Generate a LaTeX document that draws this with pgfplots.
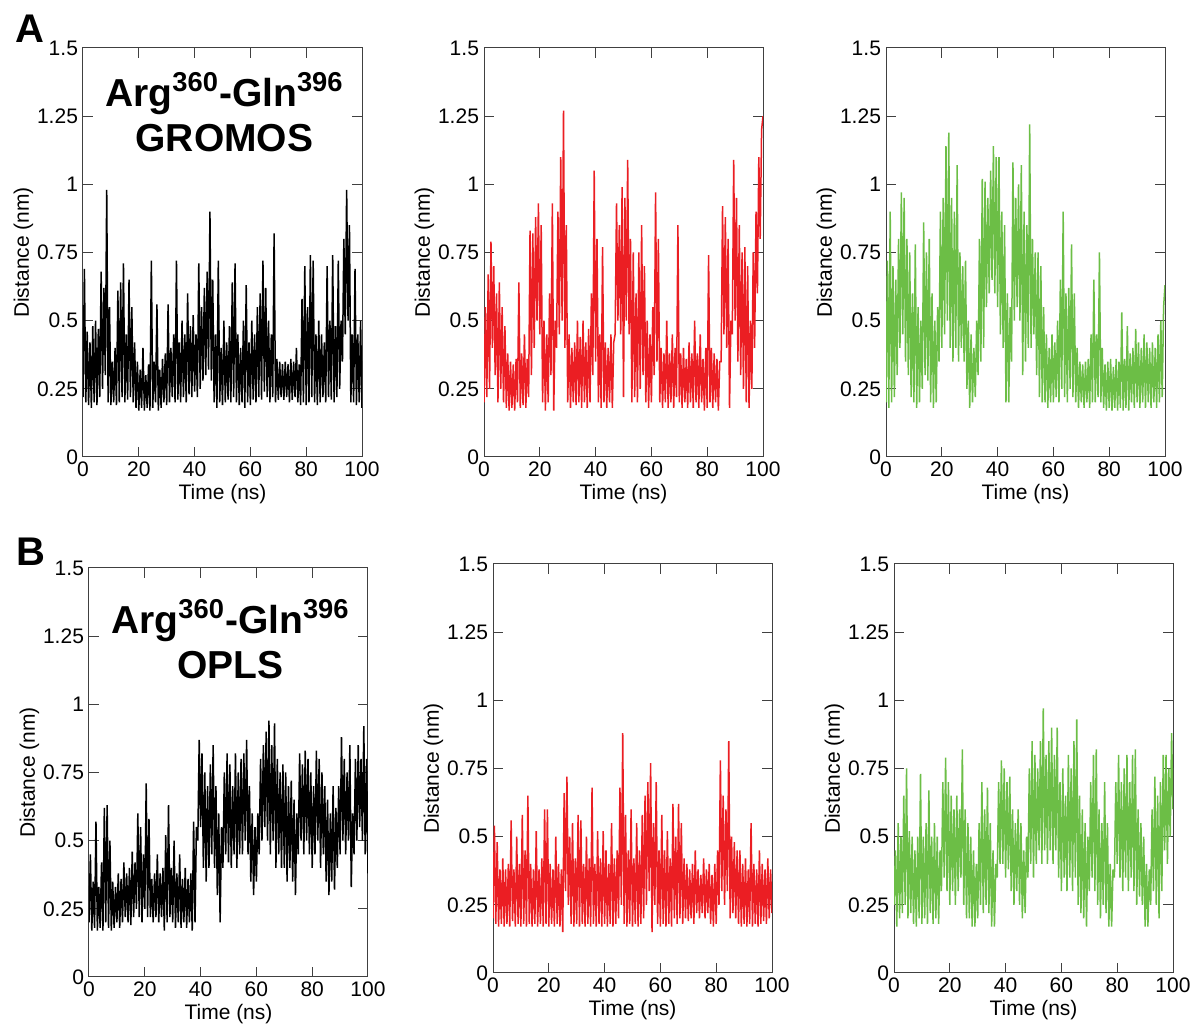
\documentclass[border=0pt]{standalone}
\usepackage{pgfplots}
\pgfplotsset{compat=1.18}
\usepackage{fontspec}
\setmainfont{Liberation Sans}
\definecolor{trred}{RGB}{235,30,35}
\definecolor{trgreen}{RGB}{108,190,70}
\pgfplotsset{panel/.style={
  scale only axis, width=139.5pt, height=204.5pt, anchor=south west,
  xmin=0, xmax=100, ymin=0, ymax=1.5,
  xtick={0,20,40,60,80,100},
  ytick={0,0.25,0.5,0.75,1,1.25,1.5},
  yticklabels={0,0.25,0.5,0.75,1,1.25,1.5},
  /pgf/number format/assume math mode=true,
  tick align=inside, major tick length=5pt, minor tick num=0,
  axis line style={black!75, line width=0.5pt},
  tick style={black!75, line width=0.5pt},
  ticklabel style={font=\fontsize{10.5}{12}\selectfont},
  label style={font=\fontsize{10.5}{12}\selectfont},
  xticklabel style={yshift=1pt},
  yticklabel style={xshift=1pt},
  xlabel={Time (ns)}, ylabel={Distance (nm)},
  xlabel style={yshift=3pt},
  ylabel style={yshift=-5pt},
  clip=true,
}}
\newcommand{\ttl}{\fontsize{19.5}{22.5}\selectfont\bfseries}
\begin{document}
\begin{tikzpicture}
\path[use as bounding box] (0,0) rectangle (597.5pt,513pt);
\node[font=\fontsize{20}{24}\selectfont\bfseries] at (15pt,498.5pt) {A};
\node[font=\fontsize{20}{24}\selectfont\bfseries] at (15.5pt,237pt) {B};
% A1
\begin{axis}[panel, at={(41.5pt,284.5pt)}]
\addplot[black, line width=0.75pt] coordinates {
(0,0.22)(0.5,0.69)(1,0.2)(1.5,0.46)(2,0.19)(2.5,0.42)(3,0.18)(3.5,0.48)(4,0.2)(4.5,0.5)
(5,0.19)(5.5,0.47)(6,0.22)(6.5,0.68)(7,0.25)(7.5,0.62)(8,0.3)(8.5,0.98)(9,0.2)(9.5,0.55)
(10,0.19)(10.5,0.35)(11,0.2)(11.5,0.4)(12,0.19)(12.5,0.61)(13,0.2)(13.5,0.64)(14,0.22)(14.5,0.71)
(15,0.2)(15.5,0.45)(16,0.21)(16.5,0.65)(17,0.22)(17.5,0.55)(18,0.2)(18.5,0.42)(19,0.18)(19.5,0.35)
(20,0.17)(20.5,0.32)(21,0.18)(21.5,0.4)(22,0.17)(22.5,0.3)(23,0.18)(23.5,0.34)(24,0.17)(24.5,0.72)
(25,0.18)(25.5,0.35)(26,0.2)(26.5,0.56)(27,0.17)(27.5,0.32)(28,0.18)(28.5,0.36)(29,0.2)(29.5,0.38)
(30,0.19)(30.5,0.56)(31,0.2)(31.5,0.4)(32,0.22)(32.5,0.45)(33,0.2)(33.5,0.72)(34,0.21)(34.5,0.42)
(35,0.2)(35.5,0.5)(36,0.22)(36.5,0.45)(37,0.2)(37.5,0.6)(38,0.23)(38.5,0.48)(39,0.22)(39.5,0.52)
(40,0.24)(40.5,0.45)(41,0.22)(41.5,0.71)(42,0.25)(42.5,0.55)(43,0.28)(43.5,0.62)(44,0.3)(44.5,0.68)
(45,0.32)(45.5,0.9)(46,0.28)(46.5,0.65)(47,0.2)(47.5,0.45)(48,0.18)(48.5,0.72)(49,0.2)(49.5,0.4)
(50,0.19)(50.5,0.5)(51,0.2)(51.5,0.42)(52,0.21)(52.5,0.48)(53,0.2)(53.5,0.64)(54,0.22)(54.5,0.71)
(55,0.2)(55.5,0.45)(56,0.19)(56.5,0.4)(57,0.2)(57.5,0.5)(58,0.18)(58.5,0.63)(59,0.2)(59.5,0.42)
(60,0.19)(60.5,0.5)(61,0.21)(61.5,0.45)(62,0.2)(62.5,0.55)(63,0.22)(63.5,0.6)(64,0.21)(64.5,0.72)
(65,0.24)(65.5,0.62)(66,0.22)(66.5,0.5)(67,0.2)(67.5,0.45)(68,0.22)(68.5,0.82)(69,0.2)(69.5,0.36)
(70,0.21)(70.5,0.35)(71,0.22)(71.5,0.34)(72,0.21)(72.5,0.35)(73,0.22)(73.5,0.34)(74,0.2)(74.5,0.36)
(75,0.21)(75.5,0.35)(76,0.22)(76.5,0.4)(77,0.2)(77.5,0.34)(78,0.19)(78.5,0.58)(79,0.2)(79.5,0.7)
(80,0.19)(80.5,0.55)(81,0.2)(81.5,0.74)(82,0.22)(82.5,0.72)(83,0.2)(83.5,0.45)(84,0.19)(84.5,0.5)
(85,0.2)(85.5,0.45)(86,0.22)(86.5,0.42)(87,0.2)(87.5,0.7)(88,0.22)(88.5,0.5)(89,0.21)(89.5,0.74)
(90,0.2)(90.5,0.48)(91,0.22)(91.5,0.72)(92,0.25)(92.5,0.5)(93,0.35)(93.5,0.8)(94,0.45)(94.5,0.98)
(95,0.5)(95.5,0.85)(96,0.2)(96.5,0.45)(97,0.2)(97.5,0.69)(98,0.19)(98.5,0.45)(99,0.2)(99.5,0.5)(100,0.18)
};
\node[font=\ttl, align=center] at (axis cs:50.7,1.265) {Arg\textsuperscript{360}-Gln\textsuperscript{396}\\GROMOS};
\end{axis}
% A2
\begin{axis}[panel, at={(242pt,284.5pt)}]
\addplot[trred, line width=0.75pt] coordinates {
(0,0.2)(0.5,0.55)(1,0.22)(1.5,0.67)(2,0.25)(2.5,0.79)(3,0.4)(3.5,0.7)(4,0.3)(4.5,0.6)
(5,0.2)(5.5,0.64)(6,0.25)(6.5,0.55)(7,0.2)(7.5,0.48)(8,0.18)(8.5,0.38)(9,0.17)(9.5,0.35)
(10,0.18)(10.5,0.34)(11,0.17)(11.5,0.36)(12,0.2)(12.5,0.64)(13,0.18)(13.5,0.38)(14,0.19)(14.5,0.45)
(15,0.18)(15.5,0.36)(16,0.22)(16.5,0.83)(17,0.3)(17.5,0.82)(18,0.4)(18.5,0.88)(19,0.5)(19.5,0.93)
(20,0.45)(20.5,0.85)(21,0.2)(21.5,0.5)(22,0.17)(22.5,0.45)(23,0.2)(23.5,0.6)(24,0.3)(24.5,0.93)
(25,0.17)(25.5,0.5)(26,0.4)(26.5,0.9)(27,0.45)(27.5,1.1)(28,0.5)(28.5,1.27)(29,0.4)(29.5,0.85)
(30,0.2)(30.5,0.45)(31,0.18)(31.5,0.4)(32,0.2)(32.5,0.42)(33,0.19)(33.5,0.5)(34,0.2)(34.5,0.44)
(35,0.18)(35.5,0.5)(36,0.2)(36.5,0.42)(37,0.18)(37.5,0.47)(38,0.2)(38.5,0.6)(39,0.3)(39.5,1.05)
(40,0.35)(40.5,0.8)(41,0.2)(41.5,0.45)(42,0.18)(42.5,0.77)(43,0.2)(43.5,0.42)(44,0.18)(44.5,0.4)
(45,0.2)(45.5,0.45)(46,0.18)(46.5,0.42)(47,0.45)(47.5,0.93)(48,0.5)(48.5,0.85)(49,0.45)(49.5,0.99)
(50,0.22)(50.5,0.95)(51,0.5)(51.5,1.09)(52,0.45)(52.5,0.8)(53,0.2)(53.5,0.75)(54,0.22)(54.5,0.6)
(55,0.2)(55.5,0.75)(56,0.25)(56.5,0.85)(57,0.3)(57.5,0.7)(58,0.2)(58.5,0.5)(59,0.18)(59.5,0.45)
(60,0.2)(60.5,0.55)(61,0.3)(61.5,0.97)(62,0.35)(62.5,0.8)(63,0.2)(63.5,0.4)(64,0.18)(64.5,0.38)
(65,0.2)(65.5,0.5)(66,0.18)(66.5,0.38)(67,0.2)(67.5,0.45)(68,0.18)(68.5,0.4)(69,0.22)(69.5,0.85)
(70,0.2)(70.5,0.38)(71,0.18)(71.5,0.4)(72,0.2)(72.5,0.36)(73,0.18)(73.5,0.42)(74,0.2)(74.5,0.38)
(75,0.18)(75.5,0.5)(76,0.2)(76.5,0.38)(77,0.18)(77.5,0.45)(78,0.2)(78.5,0.36)(79,0.17)(79.5,0.4)
(80,0.18)(80.5,0.74)(81,0.2)(81.5,0.4)(82,0.18)(82.5,0.38)(83,0.2)(83.5,0.36)(84,0.17)(84.5,0.35)
(85,0.35)(85.5,0.92)(86,0.45)(86.5,0.88)(87,0.4)(87.5,0.8)(88,0.18)(88.5,0.5)(89,0.45)(89.5,1.09)
(90,0.5)(90.5,0.95)(91,0.35)(91.5,0.85)(92,0.3)(92.5,0.75)(93,0.25)(93.5,0.77)(94,0.2)(94.5,0.7)
(95,0.18)(95.5,0.5)(96,0.25)(96.5,0.75)(97,0.4)(97.5,0.9)(98,0.6)(98.5,1.1)(99,0.8)(99.5,1.2)(100,1.25)
};
\end{axis}
% A3
\begin{axis}[panel, at={(443pt,284.5pt)}]
\addplot[trgreen, line width=0.75pt] coordinates {
(0,0.2)(0.5,0.72)(1,0.18)(1.5,0.9)(2,0.2)(2.5,0.7)(3,0.22)(3.5,0.65)(4,0.3)(4.5,0.8)
(5,0.4)(5.5,0.97)(6,0.45)(6.5,0.95)(7,0.35)(7.5,0.8)(8,0.3)(8.5,0.75)(9,0.22)(9.5,0.6)
(10,0.2)(10.5,0.78)(11,0.18)(11.5,0.55)(12,0.2)(12.5,0.5)(13,0.25)(13.5,0.86)(14,0.3)(14.5,0.75)
(15,0.28)(15.5,0.8)(16,0.2)(16.5,0.6)(17,0.18)(17.5,0.5)(18,0.2)(18.5,0.55)(19,0.35)(19.5,0.9)
(20,0.4)(20.5,0.95)(21,0.45)(21.5,1.14)(22,0.5)(22.5,1.19)(23,0.4)(23.5,0.95)(24,0.35)(24.5,0.9)
(25,0.4)(25.5,1.07)(26,0.35)(26.5,0.75)(27,0.4)(27.5,0.7)(28,0.35)(28.5,0.72)(29,0.25)(29.5,0.5)
(30,0.18)(30.5,0.45)(31,0.2)(31.5,0.4)(32,0.22)(32.5,0.5)(33,0.3)(33.5,0.8)(34,0.35)(34.5,1.02)
(35,0.4)(35.5,1.01)(36,0.55)(36.5,0.95)(37,0.6)(37.5,1.05)(38,0.65)(38.5,1.14)(39,0.6)(39.5,1.1)
(40,0.55)(40.5,1.1)(41,0.45)(41.5,0.9)(42,0.4)(42.5,0.85)(43,0.2)(43.5,0.6)(44,0.2)(44.5,0.55)
(45,0.35)(45.5,1.08)(46,0.5)(46.5,0.95)(47,0.55)(47.5,1.0)(48,0.5)(48.5,1.07)(49,0.3)(49.5,0.9)
(50,0.35)(50.5,0.85)(51,0.4)(51.5,1.22)(52,0.4)(52.5,0.8)(53,0.45)(53.5,0.75)(54,0.3)(54.5,0.75)
(55,0.22)(55.5,0.7)(56,0.2)(56.5,0.55)(57,0.2)(57.5,0.45)(58,0.18)(58.5,0.4)(59,0.2)(59.5,0.45)
(60,0.2)(60.5,0.42)(61,0.22)(61.5,0.5)(62,0.2)(62.5,0.65)(63,0.25)(63.5,0.9)(64,0.22)(64.5,0.6)
(65,0.2)(65.5,0.62)(66,0.25)(66.5,0.78)(67,0.22)(67.5,0.6)(68,0.2)(68.5,0.4)(69,0.18)(69.5,0.35)
(70,0.2)(70.5,0.34)(71,0.18)(71.5,0.35)(72,0.2)(72.5,0.36)(73,0.18)(73.5,0.45)(74,0.2)(74.5,0.65)
(75,0.2)(75.5,0.45)(76,0.22)(76.5,0.75)(77,0.2)(77.5,0.4)(78,0.18)(78.5,0.34)(79,0.17)(79.5,0.35)
(80,0.18)(80.5,0.36)(81,0.17)(81.5,0.33)(82,0.18)(82.5,0.36)(83,0.17)(83.5,0.35)(84,0.18)(84.5,0.53)
(85,0.17)(85.5,0.36)(86,0.18)(86.5,0.48)(87,0.17)(87.5,0.38)(88,0.2)(88.5,0.4)(89,0.18)(89.5,0.47)
(90,0.2)(90.5,0.42)(91,0.18)(91.5,0.4)(92,0.2)(92.5,0.45)(93,0.18)(93.5,0.42)(94,0.2)(94.5,0.4)
(95,0.18)(95.5,0.42)(96,0.2)(96.5,0.4)(97,0.18)(97.5,0.45)(98,0.2)(98.5,0.5)(99,0.22)(99.5,0.55)(100,0.63)
};
\end{axis}
% B1
\begin{axis}[panel, at={(44.5pt,24.5pt)}]
\addplot[black, line width=0.75pt] coordinates {
(0,0.2)(0.5,0.45)(1,0.17)(1.5,0.35)(2,0.18)(2.5,0.57)(3,0.17)(3.5,0.33)(4,0.18)(4.5,0.42)
(5,0.17)(5.5,0.62)(6,0.2)(6.5,0.63)(7,0.18)(7.5,0.5)(8,0.17)(8.5,0.35)(9,0.18)(9.5,0.33)
(10,0.2)(10.5,0.38)(11,0.18)(11.5,0.36)(12,0.2)(12.5,0.42)(13,0.22)(13.5,0.38)(14,0.2)(14.5,0.4)
(15,0.19)(15.5,0.46)(16,0.22)(16.5,0.42)(17,0.25)(17.5,0.6)(18,0.22)(18.5,0.55)(19,0.2)(19.5,0.45)
(20,0.25)(20.5,0.71)(21,0.22)(21.5,0.58)(22,0.22)(22.5,0.36)(23,0.2)(23.5,0.38)(24,0.22)(24.5,0.45)
(25,0.2)(25.5,0.38)(26,0.22)(26.5,0.4)(27,0.17)(27.5,0.52)(28,0.2)(28.5,0.63)(29,0.22)(29.5,0.4)
(30,0.2)(30.5,0.5)(31,0.18)(31.5,0.38)(32,0.2)(32.5,0.45)(33,0.18)(33.5,0.36)(34,0.2)(34.5,0.4)
(35,0.18)(35.5,0.36)(36,0.2)(36.5,0.38)(37,0.17)(37.5,0.57)(38,0.2)(38.5,0.55)(39,0.5)(39.5,0.87)
(40,0.55)(40.5,0.82)(41,0.4)(41.5,0.75)(42,0.35)(42.5,0.7)(43,0.4)(43.5,0.78)(44,0.45)(44.5,0.85)
(45,0.4)(45.5,0.7)(46,0.3)(46.5,0.6)(47,0.2)(47.5,0.55)(48,0.4)(48.5,0.75)(49,0.45)(49.5,0.82)
(50,0.42)(50.5,0.78)(51,0.4)(51.5,0.7)(52,0.45)(52.5,0.82)(53,0.4)(53.5,0.75)(54,0.45)(54.5,0.8)
(55,0.45)(55.5,0.82)(56,0.5)(56.5,0.87)(57,0.45)(57.5,0.7)(58,0.35)(58.5,0.6)(59,0.3)(59.5,0.55)
(60,0.35)(60.5,0.6)(61,0.45)(61.5,0.8)(62,0.5)(62.5,0.85)(63,0.55)(63.5,0.9)(64,0.5)(64.5,0.94)
(65,0.45)(65.5,0.85)(66,0.5)(66.5,0.93)(67,0.4)(67.5,0.8)(68,0.45)(68.5,0.75)(69,0.4)(69.5,0.78)
(70,0.4)(70.5,0.75)(71,0.35)(71.5,0.7)(72,0.4)(72.5,0.72)(73,0.35)(73.5,0.65)(74,0.3)(74.5,0.6)
(75,0.45)(75.5,0.82)(76,0.5)(76.5,0.78)(77,0.45)(77.5,0.83)(78,0.5)(78.5,0.8)(79,0.45)(79.5,0.75)
(80,0.4)(80.5,0.7)(81,0.45)(81.5,0.83)(82,0.5)(82.5,0.8)(83,0.4)(83.5,0.75)(84,0.45)(84.5,0.7)
(85,0.35)(85.5,0.65)(86,0.3)(86.5,0.6)(87,0.35)(87.5,0.7)(88,0.32)(88.5,0.62)(89,0.4)(89.5,0.7)
(90,0.45)(90.5,0.88)(91,0.5)(91.5,0.8)(92,0.45)(92.5,0.75)(93,0.5)(93.5,0.85)(94,0.33)(94.5,0.6)
(95,0.45)(95.5,0.8)(96,0.5)(96.5,0.85)(97,0.55)(97.5,0.8)(98,0.5)(98.5,0.92)(99,0.45)(99.5,0.8)(100,0.38)
};
\node[font=\ttl, align=center] at (axis cs:50.7,1.24) {Arg\textsuperscript{360}-Gln\textsuperscript{396}\\OPLS};
\end{axis}
% B2
\begin{axis}[panel, at={(246.5pt,26.5pt)}]
\addplot[trred, line width=0.75pt] coordinates {
(0,0.2)(0.5,0.54)(1,0.18)(1.5,0.48)(2,0.17)(2.5,0.38)(3,0.18)(3.5,0.42)(4,0.17)(4.5,0.38)
(5,0.18)(5.5,0.4)(6,0.17)(6.5,0.56)(7,0.19)(7.5,0.38)(8,0.17)(8.5,0.5)(9,0.18)(9.5,0.4)
(10,0.17)(10.5,0.58)(11,0.18)(11.5,0.45)(12,0.17)(12.5,0.65)(13,0.18)(13.5,0.4)(14,0.17)(14.5,0.38)
(15,0.18)(15.5,0.52)(16,0.17)(16.5,0.38)(17,0.18)(17.5,0.42)(18,0.17)(18.5,0.6)(19,0.18)(19.5,0.6)
(20,0.17)(20.5,0.4)(21,0.18)(21.5,0.38)(22,0.17)(22.5,0.5)(23,0.18)(23.5,0.4)(24,0.17)(24.5,0.38)
(25,0.15)(25.5,0.66)(26,0.3)(26.5,0.72)(27,0.25)(27.5,0.5)(28,0.18)(28.5,0.55)(29,0.17)(29.5,0.42)
(30,0.18)(30.5,0.58)(31,0.17)(31.5,0.56)(32,0.18)(32.5,0.4)(33,0.17)(33.5,0.5)(34,0.18)(34.5,0.42)
(35,0.17)(35.5,0.68)(36,0.18)(36.5,0.4)(37,0.17)(37.5,0.52)(38,0.18)(38.5,0.42)(39,0.17)(39.5,0.52)
(40,0.18)(40.5,0.45)(41,0.17)(41.5,0.4)(42,0.18)(42.5,0.55)(43,0.17)(43.5,0.42)(44,0.18)(44.5,0.45)
(45,0.2)(45.5,0.68)(46,0.25)(46.5,0.88)(47,0.18)(47.5,0.58)(48,0.17)(48.5,0.45)(49,0.18)(49.5,0.6)
(50,0.17)(50.5,0.42)(51,0.18)(51.5,0.55)(52,0.17)(52.5,0.45)(53,0.18)(53.5,0.58)(54,0.2)(54.5,0.65)
(55,0.25)(55.5,0.7)(56,0.3)(56.5,0.77)(57,0.15)(57.5,0.55)(58,0.25)(58.5,0.7)(59,0.18)(59.5,0.45)
(60,0.17)(60.5,0.58)(61,0.18)(61.5,0.45)(62,0.17)(62.5,0.52)(63,0.18)(63.5,0.42)(64,0.17)(64.5,0.62)
(65,0.2)(65.5,0.5)(66,0.18)(66.5,0.62)(67,0.2)(67.5,0.55)(68,0.18)(68.5,0.42)(69,0.2)(69.5,0.4)
(70,0.19)(70.5,0.38)(71,0.2)(71.5,0.4)(72,0.18)(72.5,0.45)(73,0.22)(73.5,0.38)(74,0.2)(74.5,0.36)
(75,0.22)(75.5,0.42)(76,0.2)(76.5,0.38)(77,0.22)(77.5,0.4)(78,0.18)(78.5,0.36)(79,0.17)(79.5,0.4)
(80,0.18)(80.5,0.45)(81,0.25)(81.5,0.78)(82,0.3)(82.5,0.65)(83,0.25)(83.5,0.6)(84,0.3)(84.5,0.85)
(85,0.2)(85.5,0.5)(86,0.22)(86.5,0.48)(87,0.2)(87.5,0.45)(88,0.18)(88.5,0.45)(89,0.17)(89.5,0.4)
(90,0.18)(90.5,0.42)(91,0.17)(91.5,0.38)(92,0.18)(92.5,0.55)(93,0.17)(93.5,0.4)(94,0.18)(94.5,0.38)
(95,0.17)(95.5,0.45)(96,0.18)(96.5,0.4)(97,0.19)(97.5,0.38)(98,0.18)(98.5,0.42)(99,0.2)(99.5,0.38)(100,0.22)
};
\end{axis}
% B3
\begin{axis}[panel, at={(447pt,26.5pt)}]
\addplot[trgreen, line width=0.75pt] coordinates {
(0,0.25)(0.5,0.45)(1,0.17)(1.5,0.55)(2,0.2)(2.5,0.5)(3,0.22)(3.5,0.65)(4,0.25)(4.5,0.75)
(5,0.2)(5.5,0.52)(6,0.22)(6.5,0.5)(7,0.18)(7.5,0.45)(8,0.17)(8.5,0.5)(9,0.2)(9.5,0.73)
(10,0.18)(10.5,0.5)(11,0.2)(11.5,0.55)(12,0.18)(12.5,0.67)(13,0.22)(13.5,0.5)(14,0.18)(14.5,0.55)
(15,0.2)(15.5,0.5)(16,0.18)(16.5,0.45)(17,0.3)(17.5,0.7)(18,0.35)(18.5,0.79)(19,0.3)(19.5,0.7)
(20,0.25)(20.5,0.65)(21,0.3)(21.5,0.6)(22,0.25)(22.5,0.65)(23,0.3)(23.5,0.6)(24,0.35)(24.5,0.82)
(25,0.25)(25.5,0.6)(26,0.2)(26.5,0.55)(27,0.2)(27.5,0.5)(28,0.17)(28.5,0.45)(29,0.17)(29.5,0.4)
(30,0.2)(30.5,0.55)(31,0.25)(31.5,0.7)(32,0.22)(32.5,0.6)(33,0.25)(33.5,0.68)(34,0.22)(34.5,0.55)
(35,0.17)(35.5,0.45)(36,0.17)(36.5,0.4)(37,0.35)(37.5,0.7)(38,0.4)(38.5,0.78)(39,0.4)(39.5,0.75)
(40,0.35)(40.5,0.7)(41,0.38)(41.5,0.72)(42,0.3)(42.5,0.6)(43,0.25)(43.5,0.55)(44,0.3)(44.5,0.6)
(45,0.25)(45.5,0.55)(46,0.2)(46.5,0.45)(47,0.22)(47.5,0.5)(48,0.35)(48.5,0.75)(49,0.4)(49.5,0.85)
(50,0.35)(50.5,0.8)(51,0.4)(51.5,0.75)(52,0.45)(52.5,0.85)(53,0.4)(53.5,0.97)(54,0.45)(54.5,0.8)
(55,0.4)(55.5,0.85)(56,0.45)(56.5,0.9)(57,0.4)(57.5,0.8)(58,0.45)(58.5,0.9)(59,0.35)(59.5,0.7)
(60,0.3)(60.5,0.75)(61,0.35)(61.5,0.65)(62,0.3)(62.5,0.8)(63,0.35)(63.5,0.75)(64,0.3)(64.5,0.85)
(65,0.35)(65.5,0.93)(66,0.25)(66.5,0.65)(67,0.22)(67.5,0.6)(68,0.2)(68.5,0.55)(69,0.17)(69.5,0.5)
(70,0.3)(70.5,0.7)(71,0.35)(71.5,0.8)(72,0.3)(72.5,0.82)(73,0.25)(73.5,0.6)(74,0.2)(74.5,0.55)
(75,0.25)(75.5,0.7)(76,0.22)(76.5,0.55)(77,0.17)(77.5,0.4)(78,0.17)(78.5,0.38)(79,0.35)(79.5,0.7)
(80,0.4)(80.5,0.8)(81,0.35)(81.5,0.7)(82,0.3)(82.5,0.75)(83,0.35)(83.5,0.8)(84,0.3)(84.5,0.7)
(85,0.35)(85.5,0.8)(86,0.3)(86.5,0.82)(87,0.25)(87.5,0.6)(88,0.28)(88.5,0.55)(89,0.25)(89.5,0.5)
(90,0.17)(90.5,0.4)(91,0.17)(91.5,0.38)(92,0.25)(92.5,0.6)(93,0.3)(93.5,0.72)(94,0.25)(94.5,0.65)
(95,0.2)(95.5,0.7)(96,0.3)(96.5,0.8)(97,0.45)(97.5,0.8)(98,0.4)(98.5,0.75)(99,0.5)(99.5,0.88)(100,0.6)
};
\end{axis}
\end{tikzpicture}
\end{document}
